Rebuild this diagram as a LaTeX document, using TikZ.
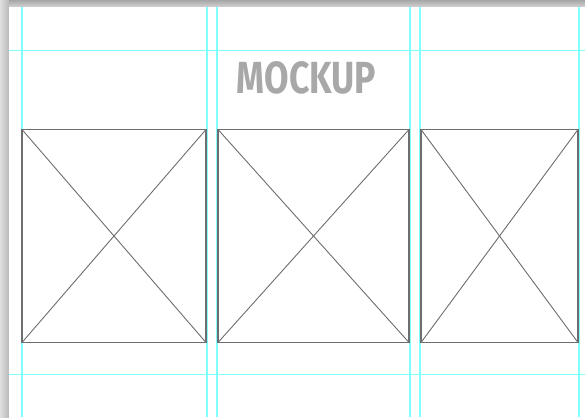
\documentclass[tikz,border=0pt]{standalone}
\usepackage{fontspec}
\newfontfamily\mockfont{Fira Sans}
\usetikzlibrary{positioning}
\definecolor{guideCyan}{HTML}{80FFFF}
\definecolor{frameGray}{HTML}{6E6E6E}
\definecolor{titleGray}{HTML}{A8A8A8}

\begin{document}
\begin{tikzpicture}[x=1pt, y=-1pt,
    guide/.style={guideCyan, line width=1.3pt},
    frame/.style={draw=frameGray, line width=1.3pt, inner sep=0pt, outer sep=0pt, anchor=north west},
    cross/.style={frameGray, line width=0.9pt}]
    \useasboundingbox (0,0) rectangle (585,417);
    \shade[left color=gray!25, right color=gray!55] (0,0) rectangle (9,417);
    \shade[top color=gray!70, bottom color=gray!35] (9,0) rectangle (585,7);
    \fill[white] (9,7) rectangle (585,417);
    \foreach \gx in {22,207,217,410,420,579}
        \draw[guide] (\gx,7) -- (\gx,417);
    \foreach \gy in {50.5,374.5}
        \draw[guide] (9,\gy) -- (585,\gy);
    \node[frame, minimum width=184pt, minimum height=213pt] (left) at (22,129.5) {};
    \node[frame, minimum width=191pt, minimum height=213pt] (middle) at (218,129.5) {};
    \node[frame, minimum width=157pt, minimum height=213pt] (right) at (421,129.5) {};
    \foreach \b in {left,middle,right} {
        \draw[cross] (\b.north west) -- (\b.south east);
        \draw[cross] (\b.south west) -- (\b.north east);
    }
    \node[font=\mockfont\bfseries\fontsize{45}{45}\selectfont, text=titleGray, xscale=0.79, inner sep=0pt] (title) at (306.5,78) {MOCKUP};
\end{tikzpicture}
\end{document}
